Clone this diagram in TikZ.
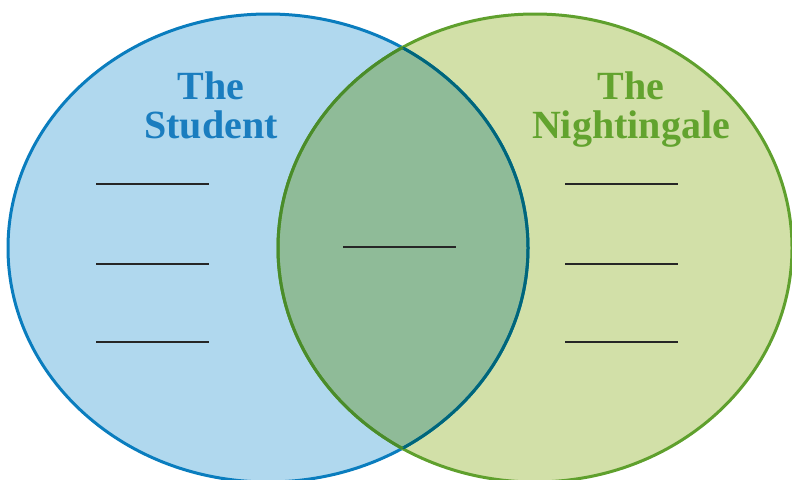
\documentclass[tikz,border=0pt]{standalone}
\usepackage{fontspec}
\setmainfont{Liberation Serif}
\definecolor{bfill}{HTML}{B0D8EE}
\definecolor{gfill}{HTML}{D2E0A8}
\definecolor{ofill}{HTML}{8FBB98}
\definecolor{bline}{HTML}{0A7DBE}
\definecolor{gline}{HTML}{5FA02D}
\definecolor{bdark}{HTML}{00667A}
\definecolor{gdark}{HTML}{4A8C2A}
\definecolor{btext}{HTML}{1A7DBF}
\definecolor{gtext}{HTML}{62A32E}
\tikzset{
  title/.style={font=\fontsize{40}{39}\selectfont\bfseries, align=center, inner sep=0pt},
  blank/.style={draw=black!85, line width=2pt},
  ring/.style={line width=3pt}
}
\begin{document}
\begin{tikzpicture}[x=1pt,y=-1pt]
\useasboundingbox (0,0) rectangle (792,479);
\clip (0,0) rectangle (792,479);
% fills
\fill[bfill] (268,248) ellipse [x radius=260, y radius=234];
\fill[gfill] (535,248) ellipse [x radius=257, y radius=234];
\begin{scope}
  \clip (268,248) ellipse [x radius=260, y radius=234];
  \fill[ofill] (535,248) ellipse [x radius=257, y radius=234];
\end{scope}
% outlines
\draw[ring, bline] (268,248) ellipse [x radius=260, y radius=234];
\draw[ring, gline] (535,248) ellipse [x radius=257, y radius=234];
\begin{scope}
  \clip (535,248) ellipse [x radius=257, y radius=234];
  \draw[ring, bdark] (268,248) ellipse [x radius=260, y radius=234];
\end{scope}
\begin{scope}
  \clip (268,248) ellipse [x radius=260, y radius=234];
  \draw[ring, gdark] (535,248) ellipse [x radius=257, y radius=234];
\end{scope}
% titles
\node[title, text=btext, anchor=base] (st) at (211,138) {The\\Student};
\node[title, text=gtext, anchor=base] (ni) at (631,138) {The\\Nightingale};
% blanks
\draw[blank] (96,184) -- (209,184);
\draw[blank] (96,264) -- (209,264);
\draw[blank] (96,342) -- (209,342);
\draw[blank] (343,247) -- (456,247);
\draw[blank] (565,184) -- (678,184);
\draw[blank] (565,264) -- (678,264);
\draw[blank] (565,342) -- (678,342);
\end{tikzpicture}
\end{document}
